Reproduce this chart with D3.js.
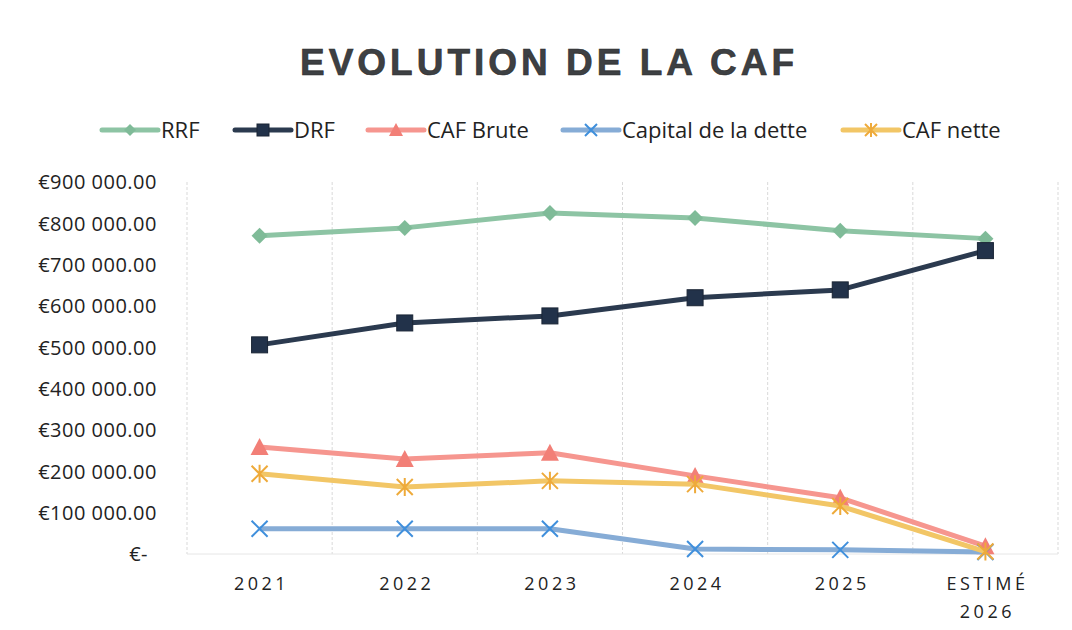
<!DOCTYPE html>
<html>
<head>
<meta charset="utf-8">
<script src="https://cdn.jsdelivr.net/npm/d3@7"></script>
<style>
  body { margin: 0; background: #fff; }
  text { font-family: "Open Sans", "Noto Sans", sans-serif; }
  text.title { font-family: "Liberation Sans", Arial, sans-serif; }
</style>
</head>
<body>
<script>
// data
const years = ['2021', '2022', '2023', '2024', '2025', 'ESTIMÉ 2026'];
const rrf = [770000, 789000, 825000, 813000, 782000, 763000];
const drf = [506000, 559000, 576000, 620000, 639000, 734000];
const cafBrute = [259000, 230000, 245000, 189000, 136000, 19000];
const capitalDette = [61000, 61000, 61000, 12000, 10000, 5000];
const cafNette = [194000, 162000, 177000, 169000, 116000, 6000];
const yTicks = [0, 100000, 200000, 300000, 400000, 500000, 600000, 700000, 800000, 900000];

const series = [
  {name: 'RRF', values: rrf, color: '#8dc4a4', marker: 'diamond', mcolor: '#7fbb98'},
  {name: 'DRF', values: drf, color: '#2b3a4f', marker: 'square', mcolor: '#22324a'},
  {name: 'CAF Brute', values: cafBrute, color: '#f6968f', marker: 'triangle', mcolor: '#f27f77'},
  {name: 'Capital de la dette', values: capitalDette, color: '#86acd6', marker: 'x', mcolor: '#3f8fdc'},
  {name: 'CAF nette', values: cafNette, color: '#f2c666', marker: 'star', mcolor: '#eeaa3a'}
];

const width = 1072, height = 630;
const margin = {top: 182, right: 14, bottom: 76, left: 187};

const svg = d3.select('body').append('svg')
    .attr('width', width)
    .attr('height', height);

const x = d3.scaleBand()
    .domain(years)
    .range([margin.left, width - margin.right]);

const y = d3.scaleLinear()
    .domain([0, 900000])
    .range([height - margin.bottom, margin.top]);

// vertical gridlines between categories
const bounds = years.map(d => x(d)).concat([x.range()[1]]);
svg.append('g').selectAll('line')
    .data(bounds)
    .join('line')
    .attr('x1', d => d).attr('x2', d => d)
    .attr('y1', margin.top).attr('y2', y(0))
    .attr('stroke', '#d9d9d9')
    .attr('stroke-width', 1)
    .attr('stroke-dasharray', '3,2');

svg.append('line')
    .attr('x1', margin.left).attr('x2', x.range()[1])
    .attr('y1', y(0)).attr('y2', y(0))
    .attr('stroke', '#e6e6e6');

// y axis labels
const fmt = v => v === 0 ? '€-' : '€' + d3.format(',.2f')(v).replace(/,/g, ' ');
svg.append('g').selectAll('text')
    .data(yTicks)
    .join('text')
    .attr('x', d => d === 0 ? 148 : 157)
    .attr('y', d => y(d))
    .attr('dy', '0.36em')
    .attr('text-anchor', 'end')
    .attr('font-size', 20)
    .attr('letter-spacing', 0.5)
    .attr('fill', '#222')
    .text(fmt);

// x axis labels
const xl = svg.append('g').selectAll('text')
    .data(years)
    .join('text')
    .attr('x', d => x(d) + x.bandwidth() / 2)
    .attr('y', 590)
    .attr('text-anchor', 'middle')
    .attr('font-size', 18)
    .attr('letter-spacing', 3.5)
    .attr('fill', '#222');
xl.each(function(d) {
  const parts = d.split(' ');
  const t = d3.select(this);
  parts.forEach((p, i) => {
    t.append('tspan')
      .attr('x', x(d) + x.bandwidth() / 2 + 2)
      .attr('dy', i === 0 ? 0 : 28)
      .text(p);
  });
});

const cx = d => x(d) + x.bandwidth() / 2;

function drawMarker(g, type, color, s) {
  if (type === 'diamond') {
    g.append('path').attr('d', `M0,${-s}L${s},0L0,${s}L${-s},0Z`).attr('fill', color);
  } else if (type === 'square') {
    g.append('rect').attr('x', -s).attr('y', -s).attr('width', 2 * s).attr('height', 2 * s)
      .attr('fill', color).attr('stroke', '#1a2535').attr('stroke-width', 1);
  } else if (type === 'triangle') {
    g.append('path').attr('d', `M0,${-s - 1}L${s + 1},${s}L${-s - 1},${s}Z`).attr('fill', color);
  } else if (type === 'x') {
    g.append('path').attr('d', `M${-s},${-s}L${s},${s}M${-s},${s}L${s},${-s}`)
      .attr('stroke', color).attr('stroke-width', 2).attr('fill', 'none');
  } else if (type === 'star') {
    g.append('path').attr('d', `M${-s},${-s}L${s},${s}M${-s},${s}L${s},${-s}M0,${-s - 1}L0,${s + 1}`)
      .attr('stroke', color).attr('stroke-width', 2).attr('fill', 'none');
  }
}

const line = d3.line().x(d => cx(d[0])).y(d => y(d[1]));

series.forEach(s => {
  const pts = years.map((yr, i) => [yr, s.values[i]]);
  svg.append('path')
    .datum(pts)
    .attr('d', line)
    .attr('fill', 'none')
    .attr('stroke', s.color)
    .attr('stroke-width', 5)
    .attr('stroke-linejoin', 'round');
  pts.forEach(p => {
    const g = svg.append('g').attr('transform', `translate(${cx(p[0])},${y(p[1])})`);
    drawMarker(g, s.marker, s.mcolor, 8);
  });
});

// title
svg.append('text')
    .attr('class', 'title')
    .attr('x', 549)
    .attr('y', 75)
    .attr('text-anchor', 'middle')
    .attr('font-size', 37)
    .attr('font-weight', 'bold')
    .attr('letter-spacing', 4)
    .attr('fill', '#3d4043')
    .attr('stroke', '#2a2a2a')
    .attr('stroke-width', 0.6)
    .text('EVOLUTION DE LA CAF');

// legend
const legendX = [102, 235, 368, 563, 843];
const legend = svg.append('g');
series.forEach((s, i) => {
  const g = legend.append('g').attr('transform', `translate(${legendX[i]},130)`);
  g.append('line').attr('x1', 0).attr('x2', 56).attr('y1', 0).attr('y2', 0)
    .attr('stroke', s.color).attr('stroke-width', 5).attr('stroke-linecap', 'round');
  const m = g.append('g').attr('transform', 'translate(28,0)');
  drawMarker(m, s.marker, s.mcolor, 6);
  g.append('text').attr('x', 59).attr('y', 0).attr('dy', '0.35em')
    .attr('font-size', 22).attr('fill', '#222').text(s.name);
});
</script>
</body>
</html>
